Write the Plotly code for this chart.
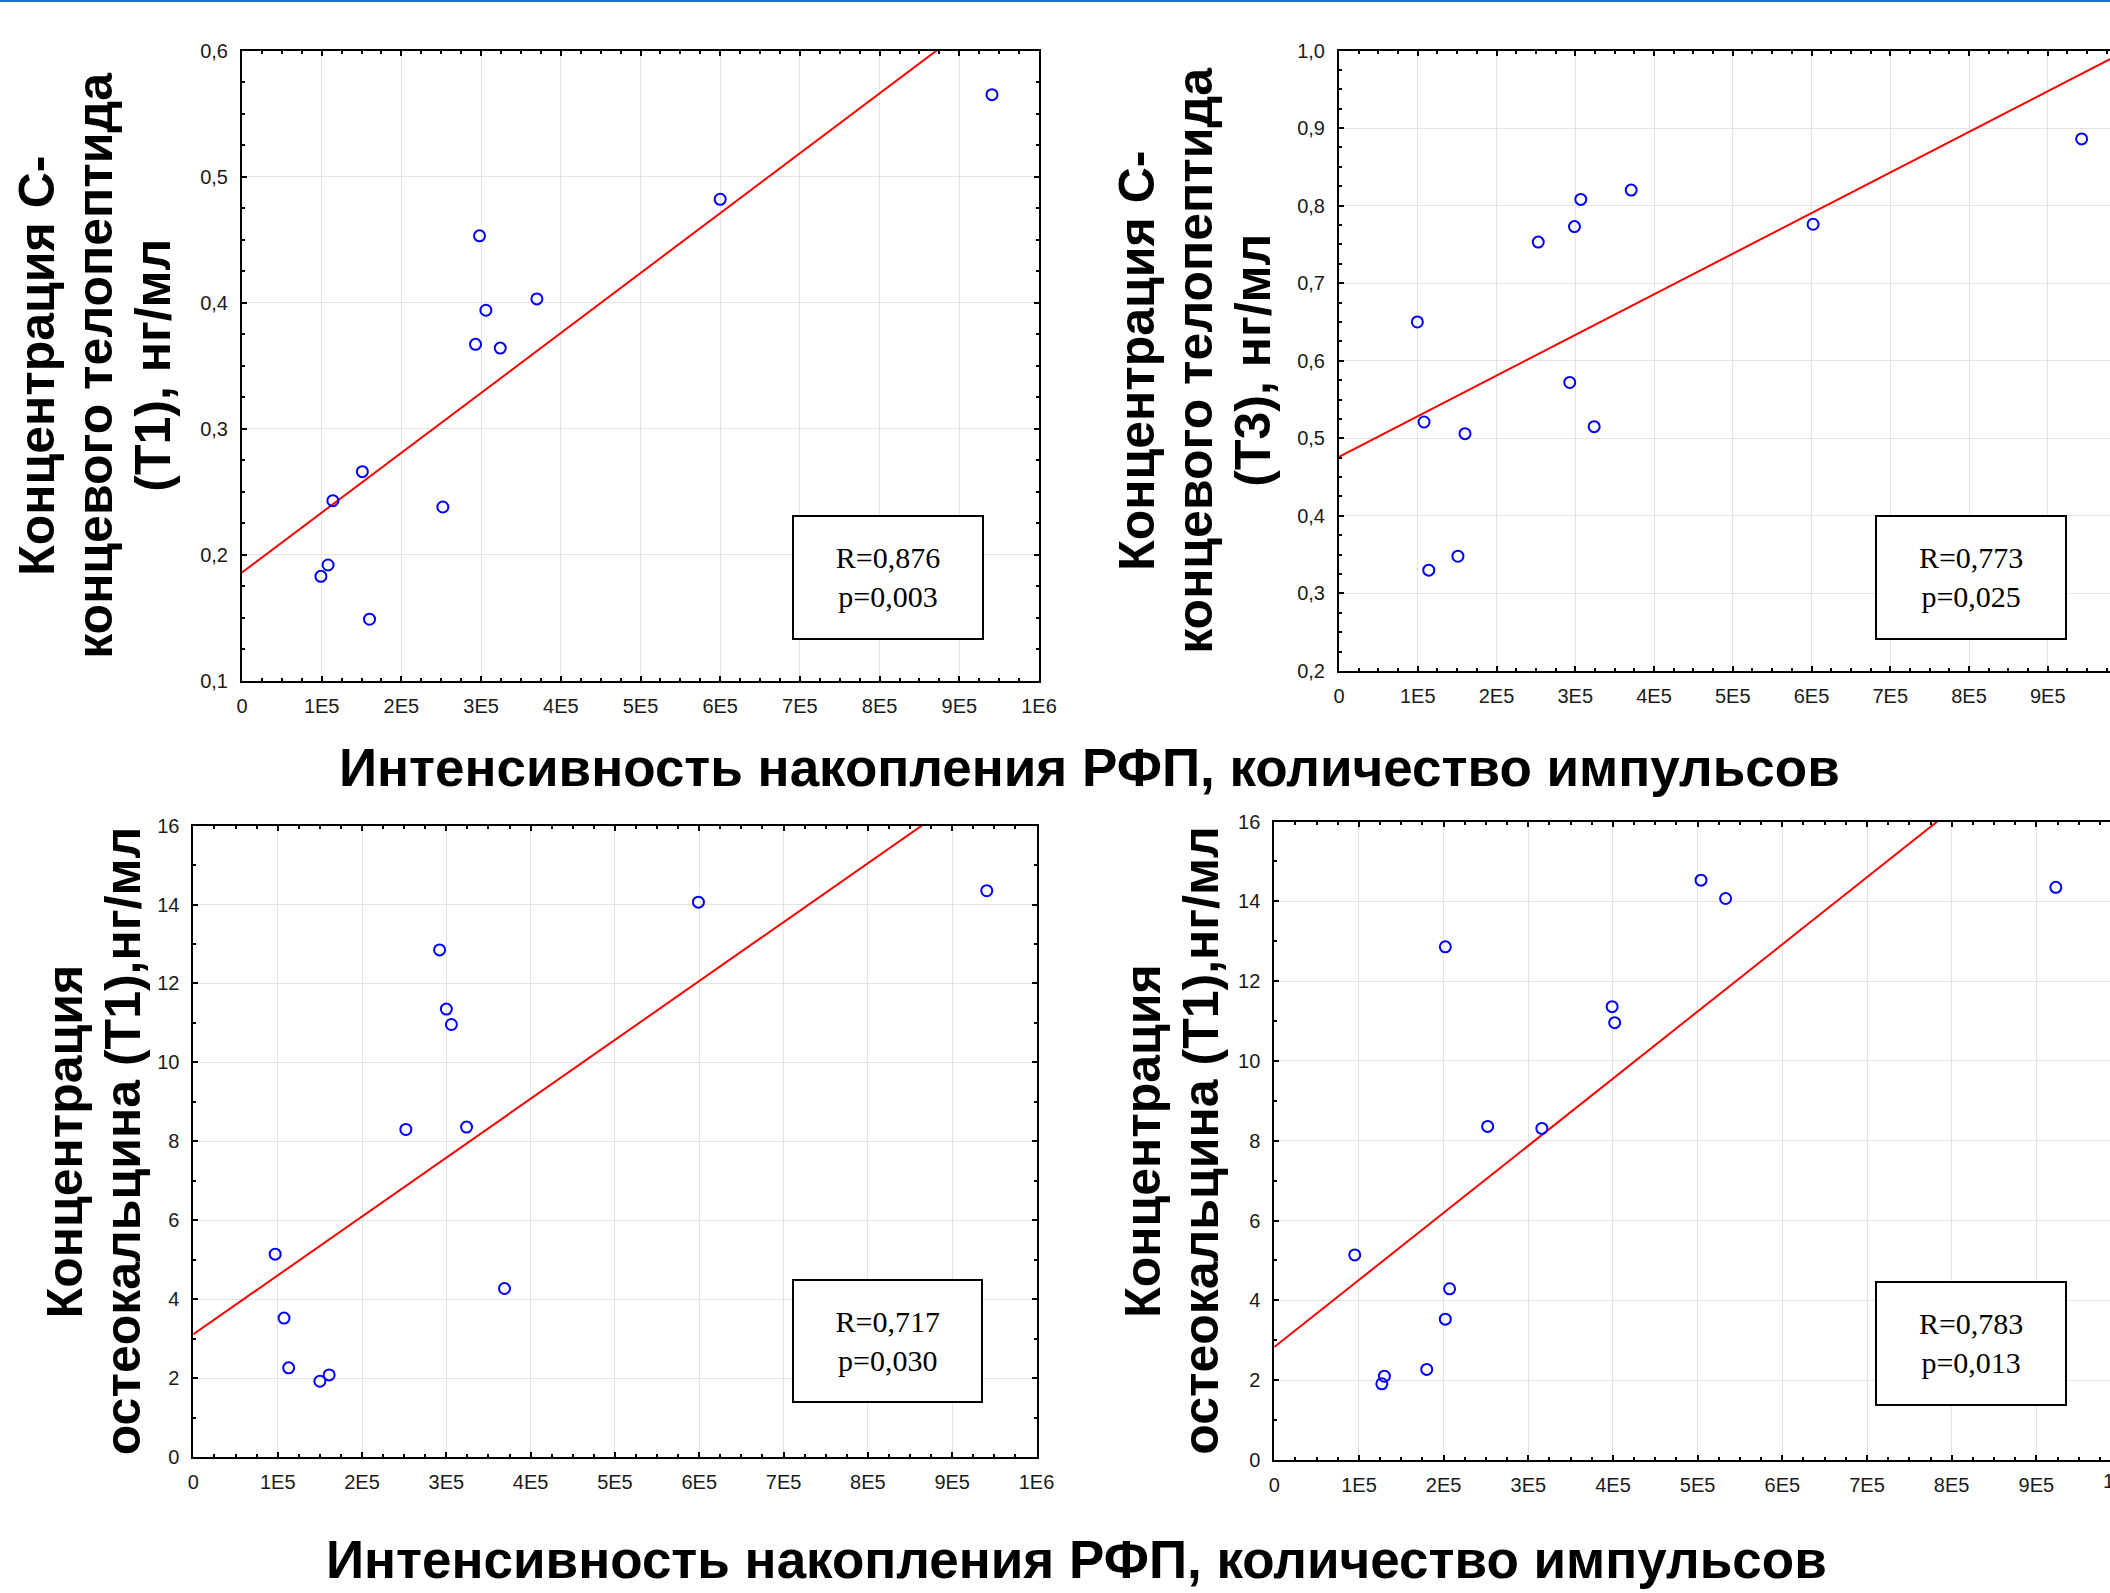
import plotly.graph_objects as go

W, H = 2110, 1593

# ---------------- data ----------------
# Panel 1: C-telopeptide (T1)
x_ctx_t1 = [9.41e5, 6.00e5, 2.98e5, 3.70e5, 3.06e5, 2.93e5, 3.24e5, 1.51e5, 1.14e5, 2.52e5, 1.08e5, 0.99e5, 1.60e5]
y_ctx_t1 = [0.565, 0.482, 0.453, 0.403, 0.394, 0.367, 0.364, 0.266, 0.243, 0.238, 0.192, 0.183, 0.149]
fit_ctx_t1 = [0.186, 0.661]          # fitted value at x=0 and x=1E6

# Panel 2: C-telopeptide (T3)
x_ctx_t3 = [9.43e5, 3.71e5, 3.07e5, 2.99e5, 6.02e5, 2.53e5, 0.995e5, 2.93e5, 1.08e5, 3.24e5, 1.60e5, 1.51e5, 1.14e5]
y_ctx_t3 = [0.886, 0.820, 0.808, 0.773, 0.776, 0.753, 0.650, 0.572, 0.521, 0.515, 0.506, 0.348, 0.330]
fit_ctx_t3 = [0.476, 1.000]

# Panel 3: osteocalcin (T1), first set
x_oc_a = [9.41e5, 5.99e5, 2.92e5, 3.00e5, 3.06e5, 2.52e5, 3.24e5, 0.97e5, 3.69e5, 1.075e5, 1.13e5, 1.61e5, 1.50e5]
y_oc_a = [14.35, 14.06, 12.85, 11.35, 10.96, 8.30, 8.36, 5.14, 4.27, 3.52, 2.26, 2.08, 1.92]
fit_oc_a = [3.11, 18.03]

# Panel 4: osteocalcin (T1), second set
x_oc_b = [9.23e5, 5.04e5, 5.33e5, 2.02e5, 3.99e5, 4.02e5, 2.52e5, 3.16e5, 0.95e5, 2.07e5, 2.02e5, 1.80e5, 1.30e5, 1.27e5]
y_oc_b = [14.35, 14.53, 14.07, 12.86, 11.36, 10.96, 8.36, 8.31, 5.14, 4.29, 3.53, 2.27, 2.10, 1.91]
fit_oc_b = [2.83, 19.65]

fit_x = [0, 1e6]

stats = ["R=0,876<br>p=0,003", "R=0,773<br>p=0,025", "R=0,717<br>p=0,030", "R=0,783<br>p=0,013"]

x_tick_vals = [0, 1e5, 2e5, 3e5, 4e5, 5e5, 6e5, 7e5, 8e5, 9e5, 1e6]
x_tick_text = ["0", "1E5", "2E5", "3E5", "4E5", "5E5", "6E5", "7E5", "8E5", "9E5", "1E6"]

y_ticks_p1 = [0.1, 0.2, 0.3, 0.4, 0.5, 0.6]
y_text_p1 = ["0,1", "0,2", "0,3", "0,4", "0,5", "0,6"]
y_ticks_p2 = [0.2, 0.3, 0.4, 0.5, 0.6, 0.7, 0.8, 0.9, 1.0]
y_text_p2 = ["0,2", "0,3", "0,4", "0,5", "0,6", "0,7", "0,8", "0,9", "1,0"]
y_ticks_oc = [0, 2, 4, 6, 8, 10, 12, 14, 16]
y_text_oc = ["0", "2", "4", "6", "8", "10", "12", "14", "16"]

y_titles = [
    ["Концентрация С-", "концевого телопептида", "(Т1), нг/мл"],
    ["Концентрация С-", "концевого телопептида", "(Т3), нг/мл"],
    ["Концентрация", "остеокальцина (Т1),нг/мл"],
    ["Концентрация", "остеокальцина (Т1),нг/мл"],
]
x_title = "Интенсивность накопления РФП, количество импульсов"

# ---------------- layout geometry (pixels) ----------------
def fx(p):
    return p / W

def fy(p):
    return 1 - p / H

panels = [
    dict(x=x_ctx_t1, y=y_ctx_t1, fit=fit_ctx_t1, xr=[0, 1e6], yr=[0.1, 0.6],
         yv=y_ticks_p1, yt=y_text_p1, ym=0.025, box=(242, 1039, 50.5, 681), cut=False,
         stat=(792.7, 982.7, 516, 638.7), title_x=95),
    dict(x=x_ctx_t3, y=y_ctx_t3, fit=fit_ctx_t3, xr=[0, 0.979e6], yr=[0.2, 1.0],
         yv=y_ticks_p2, yt=y_text_p2, ym=0.025, box=(1339, W, 50.5, 671), cut=True,
         stat=(1876.3, 2066.5, 516, 638.7), title_x=1195),
    dict(x=x_oc_a, y=y_oc_a, fit=fit_oc_a, xr=[0, 1e6], yr=[0, 16],
         yv=y_ticks_oc, yt=y_text_oc, ym=1, box=(193.4, 1036.5, 825.6, 1457), cut=False,
         stat=(793, 982.4, 1280.3, 1402), title_x=94),
    dict(x=x_oc_b, y=y_oc_b, fit=fit_oc_b, xr=[0, 0.987e6], yr=[0, 16],
         yv=y_ticks_oc, yt=y_text_oc, ym=1, box=(1274.3, W, 821.5, 1460), cut=True,
         stat=(1876.3, 2066.5, 1281.8, 1404.7), title_x=1172),
]

TICK_FONT = dict(family="Arial, Liberation Sans, sans-serif", size=20, color="#1a1a1a")
TITLE_FONT = dict(family="Arial, Liberation Sans, sans-serif", size=50, color="black")
STAT_FONT = dict(family="Times New Roman, Liberation Serif, serif", size=30, color="black")
LINE_STEP = 58  # px between title lines

fig = go.Figure()
annotations = []

for i, p in enumerate(panels, start=1):
    xa = "x" if i == 1 else f"x{i}"
    ya = "y" if i == 1 else f"y{i}"
    fig.add_trace(go.Scatter(
        x=fit_x, y=p["fit"], mode="lines", xaxis=xa, yaxis=ya,
        line=dict(color="#ff0000", width=2), showlegend=False, hoverinfo="skip"))
    fig.add_trace(go.Scatter(
        x=p["x"], y=p["y"], mode="markers", xaxis=xa, yaxis=ya,
        marker=dict(symbol="circle-open", size=11, color="#0000ff", line=dict(width=2, color="#0000ff")),
        showlegend=False, cliponaxis=False))

    x0, x1, y0, y1 = p["box"]
    common = dict(showline=True, linecolor="black", linewidth=2,
                  ticks="inside", ticklen=5, tickwidth=2, tickcolor="black",
                  showgrid=True, gridcolor="#e3e3e3", gridwidth=1,
                  zeroline=False, tickfont=TICK_FONT, automargin=False)
    xkey = "xaxis" if i == 1 else f"xaxis{i}"
    ykey = "yaxis" if i == 1 else f"yaxis{i}"
    fig.update_layout({
        xkey: dict(domain=[fx(x0), fx(x1)], range=p["xr"], anchor=ya,
                   tickvals=x_tick_vals, ticktext=x_tick_text, mirror="ticks",
                   ticklabelstandoff=6,
                   minor=dict(ticks="inside", ticklen=3, tickwidth=2, tickcolor="black",
                              dtick=25000, tick0=0, showgrid=False),
                   **common),
        ykey: dict(domain=[fy(y1), fy(y0)], range=p["yr"], anchor=xa,
                   tickvals=p["yv"], ticktext=p["yt"],
                   mirror=False if p["cut"] else "ticks",
                   ticklabelstandoff=8,
                   minor=dict(ticks="inside", ticklen=3, tickwidth=2, tickcolor="black",
                              dtick=p["ym"], tick0=p["yr"][0], showgrid=False),
                   **common),
    })

    # statistics box
    sx0, sx1, sy0, sy1 = p["stat"]
    annotations.append(dict(
        xref="paper", yref="paper", x=fx((sx0 + sx1) / 2), y=fy((sy0 + sy1) / 2),
        xanchor="center", yanchor="middle", text=stats[i - 1], showarrow=False,
        font=STAT_FONT, bordercolor="black", borderwidth=2, borderpad=0,
        width=sx1 - sx0 - 2, height=sy1 - sy0 - 2, bgcolor="white", align="center"))

    # y title, one annotation per line
    lines = y_titles[i - 1]
    n = len(lines)
    for k, line in enumerate(lines):
        cx = p["title_x"] + (k - (n - 1) / 2) * LINE_STEP
        annotations.append(dict(
            xref="paper", yref="paper", x=fx(cx), y=fy((y0 + y1) / 2),
            xanchor="center", yanchor="middle", textangle=-90, showarrow=False,
            text="<b>" + line + "</b>", font=TITLE_FONT, align="center"))

    # cut-off "1E6" label at the right edge
    if p["cut"]:
        full_w = (x1 - x0) * 1e6 / p["xr"][1]
        annotations.append(dict(
            xref="paper", yref="paper", x=fx(x0 + full_w), y=fy(y1 + 8),
            xanchor="center", yanchor="top", showarrow=False, text=x_tick_text[-1],
            font=TICK_FONT))

# shared x titles
XT_FONT = dict(family="Arial, Liberation Sans, sans-serif", size=53, color="black")
annotations.append(dict(xref="paper", yref="paper", x=fx(1089), y=fy(768),
                        xanchor="center", yanchor="middle", showarrow=False,
                        text="<b>" + x_title + "</b>", font=XT_FONT))
annotations.append(dict(xref="paper", yref="paper", x=fx(1076), y=fy(1559),
                        xanchor="center", yanchor="middle", showarrow=False,
                        text="<b>" + x_title + "</b>", font=XT_FONT))

fig.update_layout(
    width=W, height=H, margin=dict(l=0, r=0, t=0, b=0, autoexpand=False),
    paper_bgcolor="white", plot_bgcolor="white",
    annotations=annotations,
    shapes=[dict(type="line", xref="paper", yref="paper", x0=0, x1=1,
                 y0=fy(1), y1=fy(1), line=dict(color="#1e6fc0", width=2))],
)

fig.write_html("out.html", config={"displayModeBar": False},
               post_script="document.body.style.margin='0px';document.body.style.overflow='hidden';")
